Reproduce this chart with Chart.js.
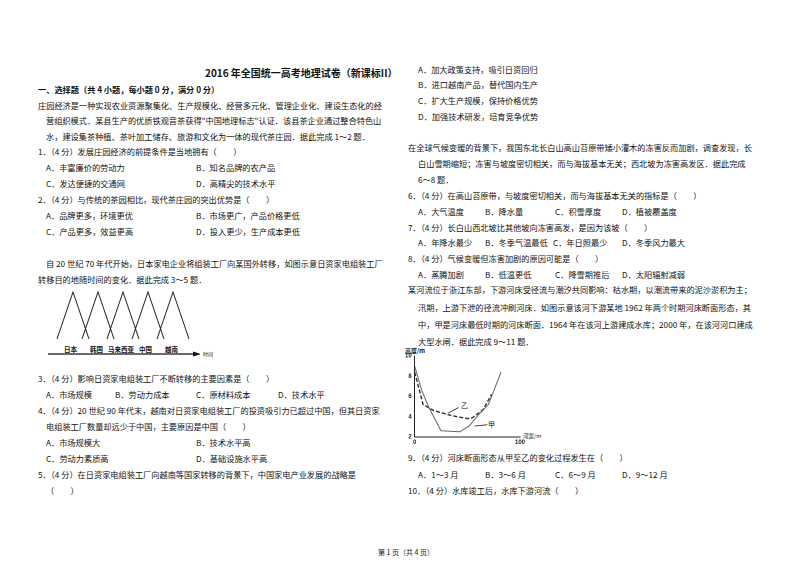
<!DOCTYPE html>
<html><head><meta charset="utf-8">
<script src="https://cdn.jsdelivr.net/npm/chart.js@4"></script>
<style>
body{margin:0;width:800px;height:565px;background:#fff;position:relative;overflow:hidden;font-family:"Noto Sans CJK SC";color:#111}
.t{position:absolute;font-size:8.2px;white-space:nowrap;line-height:10px}
.b{font-weight:bold}
canvas{position:absolute}
</style></head><body>
<script>
// river chart data (甲 / 乙)
const riverJia = [[0,9.0],[6.7,6.6],[13,5.0],[25,2.6],[43,2.5],[52,3.1],[60,4.1],[70,5.2],[82,8.4]];
const riverYi  = [[0,8.4],[8,5.2],[18,4.6],[35,4.1],[50,3.8],[55,3.9],[65,4.7],[73,6.2]];
const yTicks = [2,4,6,8,10];
const xTicks = [0,50,100];
// country transfer diagram
const countries = ['日本','韩国','马来西亚','中国','越南'];
const peaks = [1,2,3,4,5];
const halfWidth = [0.64,0.64,0.64,0.64,0.64];

const L = [
 [205,67,'2016 年全国统一高考地理试卷（新课标II）','b',10],
 [38,84,'一、选择题（共 4 小题，每小题 0 分，满分 0 分）','b'],
 [38,100,'庄园经济是一种实现农业资源聚集化、生产规模化、经营多元化、管理企业化、建设生态化的经'],
 [46,115,'营组织模式．某县生产的优质铁观音茶获得"中国地理标志"认证．该县茶企业通过整合特色山'],
 [46,131,'水，建设集茶种植、茶叶加工储存、旅游和文化为一体的现代茶庄园．据此完成 1～2 题．'],
 [38,146,'1．（4 分）发展庄园经济的前提条件是当地拥有（　　）'],
 [46,162,'A．丰富廉价的劳动力'],[196,162,'B．知名品牌的农产品'],
 [46,178,'C．发达便捷的交通网'],[196,178,'D．高精尖的技术水平'],
 [38,194,'2．（4 分）与传统的茶园相比，现代茶庄园的突出优势是（　　）'],
 [46,210,'A．品牌更多，环境更优'],[196,210,'B．市场更广，产品价格更低'],
 [46,226,'C．产品更多，效益更高'],[196,226,'D．投入更少，生产成本更低'],
 [46,258,'自 20 世纪 70 年代开始，日本家电企业将组装工厂向某国外转移，如图示意日资家电组装工厂'],
 [38,274,'转移目的地随时间的变化．据此完成 3～5 题．'],
 [38,373,'3．（4 分）影响日资家电组装工厂不断转移的主要因素是（　　）'],
 [46,389,'A．市场规模'],[115,389,'B．劳动力成本'],[196,389,'C．原材料成本'],[278,389,'D．技术水平'],
 [38,405,'4．（4 分）20 世纪 90 年代末，越南对日资家电组装工厂的投资吸引力已超过中国，但其日资家'],
 [46,421,'电组装工厂数量却远少于中国，主要原因是中国（　　）'],
 [46,437,'A．市场规模大'],[196,437,'B．技术水平高'],
 [46,453,'C．劳动力素质高'],[196,453,'D．基础设施水平高'],
 [38,469,'5．（4 分）在日资家电组装工厂向越南等国家转移的背景下，中国家电产业发展的战略是'],
 [46,485,'（　　）'],
 [418,64,'A．加大政策支持，吸引日资回归'],[418,79,'B．进口越南产品，替代国内生产'],
 [418,95,'C．扩大生产规模，保持价格优势'],[418,111,'D．加强技术研发，培育竞争优势'],
 [408,142,'在全球气候变暖的背景下，我国东北长白山高山苔原带矮小灌木的冻害反而加剧，调查发现，长'],
 [418,158,'白山雪期缩短；冻害与坡度密切相关，而与海拔基本无关；西北坡为冻害高发区．据此完成'],
 [418,174,'6～8 题．'],
 [408,190,'6．（4 分）在高山苔原带，与坡度密切相关，而与海拔基本无关的指标是（　　）'],
 [418,206,'A．大气温度'],[485,206,'B．降水量'],[555,206,'C．积雪厚度'],[622,206,'D．植被覆盖度'],
 [408,222,'7．（4 分）长白山西北坡比其他坡向冻害高发，是因为该坡（　　）'],
 [418,237,'A．年降水最少'],[485,237,'B．冬季气温最低'],[553,237,'C．年日照最少'],[622,237,'D．冬季风力最大'],
 [408,253,'8．（4 分）气候变暖但冻害加剧的原因可能是（　　）'],
 [418,269,'A．蒸腾加剧'],[485,269,'B．低温更低'],[555,269,'C．降雪期推后'],[622,269,'D．太阳辐射减弱'],
 [408,284,'某河流位于浙江东部，下游河床受径流与潮汐共同影响：枯水期，以潮流带来的泥沙淤积为主；'],
 [418,302,'汛期，上游下泄的径流冲刷河床．如图示意该河下游某地 1962 年两个时期河床断面形态，其'],
 [418,319,'中，甲是河床最低时期的河床断面．1964 年在该河上游建成水库；2000 年，在该河河口建成'],
 [418,336,'大型水闸．据此完成 9～11 题．'],
 [408,452,'9．（4 分）河床断面形态从甲至乙的变化过程发生在（　　）'],
 [418,469,'A．1～3 月'],[485,469,'B．3～6 月'],[555,469,'C．6～9 月'],[622,469,'D．9～12 月'],
 [408,485,'10．（4 分）水库竣工后，水库下游河流（　　）'],
 [378,548,'第 1 页（共 4 页）','',7],
 [405,347,'高度/m','b',6],[523,433,'河宽/m','',5.5],
 [203,351,'时间','',5],
 [461,401,'乙','',7],[488,420,'甲','',7]
];
for(const [x,y,s,c,fs] of L){const d=document.createElement('div');d.className='t '+(c||'');d.style.left=x+'px';d.style.top=y+'px';if(fs){d.style.fontSize=fs+'px';d.style.lineHeight=(fs+1)+'px';}d.textContent=s;document.body.appendChild(d);}
const labX=[64,90,108,139,165];
countries.forEach((c,i)=>{const d=document.createElement('div');d.className='t b';d.style.cssText+=`left:${labX[i]}px;top:346px;font-size:6.5px;line-height:7px`;d.textContent=c;document.body.appendChild(d);});

// triangle chart
const c1=document.createElement('canvas');c1.width=160;c1.height=75;c1.style.cssText='left:40px;top:285px;width:160px;height:75px';document.body.appendChild(c1);
const tri=peaks.map((p,i)=>({data:[{x:p-halfWidth[i],y:0},{x:p,y:1},{x:p+halfWidth[i],y:0}],showLine:true,borderColor:'#222',borderWidth:1,pointRadius:0,tension:0}));
const arrow={id:'arrow',afterDraw(ch){const g=ch.ctx,y=69;g.save();g.strokeStyle='#111';g.fillStyle='#111';g.lineWidth=1.3;g.beginPath();g.moveTo(8,y);g.lineTo(155,y);g.stroke();g.beginPath();g.moveTo(161,y);g.lineTo(153,y-2.5);g.lineTo(153,y+2.5);g.fill();g.restore();}};
new Chart(c1,{type:'scatter',data:{datasets:tri},options:{responsive:false,devicePixelRatio:2,animation:false,layout:{padding:0},plugins:{legend:{display:false},tooltip:{enabled:false}},scales:{x:{display:false,min:-0.32,max:6.08},y:{display:false,min:-0.447,max:1.149}}},plugins:[arrow]});

// river chart
const c2=document.createElement('canvas');c2.width=126;c2.height=100;c2.style.cssText='left:404px;top:346px;width:126px;height:100px';document.body.appendChild(c2);
const lead={id:'lead',afterDraw(ch){const g=ch.ctx,xs=ch.scales.x,ys=ch.scales.y;g.save();g.strokeStyle='#222';g.lineWidth=0.8;g.beginPath();g.moveTo(xs.getPixelForValue(31.7),ys.getPixelForValue(4.34));g.lineTo(xs.getPixelForValue(41.7),ys.getPixelForValue(4.9));g.moveTo(xs.getPixelForValue(56.7),ys.getPixelForValue(3.06));g.lineTo(xs.getPixelForValue(69),ys.getPixelForValue(3.2));g.stroke();g.restore();}};
new Chart(c2,{type:'scatter',data:{datasets:[
 {data:riverJia.map(([x,y])=>({x,y})),showLine:true,borderColor:'#666',borderWidth:1,pointRadius:0},
 {data:riverYi.map(([x,y])=>({x,y})),showLine:true,borderColor:'#333',borderWidth:1.4,borderDash:[4,2],pointRadius:0}]},
 options:{responsive:false,devicePixelRatio:2,animation:false,plugins:{legend:{display:false},tooltip:{enabled:false}},layout:{padding:{top:10,right:10,left:0,bottom:0}},
 scales:{x:{type:'linear',min:0,max:100,afterBuildTicks:a=>{a.ticks=[0,10,20,30,40,50,60,70,80,90,100].map(v=>({value:v}))},grid:{display:false,drawTicks:true,tickLength:2,color:'#222'},border:{color:'#222'},ticks:{font:{size:6,weight:'bold'},color:'#222',padding:0,maxRotation:0,callback:v=>xTicks.includes(v)?v:''}},
  y:{min:2,max:10,afterBuildTicks:a=>{a.ticks=yTicks.map(v=>({value:v}))},grid:{display:false,tickLength:2,color:'#222'},border:{color:'#222'},ticks:{font:{size:6,weight:'bold'},color:'#222',padding:1}}}},plugins:[lead]});
</script>
</body></html>
